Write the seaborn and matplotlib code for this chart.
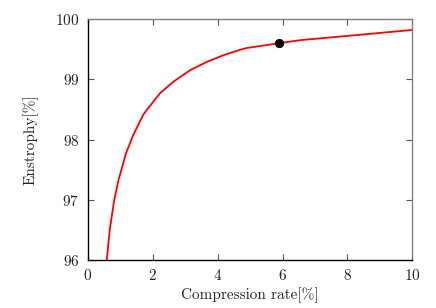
import seaborn as sns
import matplotlib
matplotlib.use("Agg")
import matplotlib.pyplot as plt
import pandas as pd

# curve
rate = [0.59, 0.68, 0.82, 0.96, 1.00, 1.18, 1.40, 1.71, 1.82, 2.07, 2.23, 2.64,
        3.15, 3.67, 4.18, 4.69, 4.90, 5.90, 6.54, 7.98, 10.0]
enstrophy = [96.0, 96.5, 97.0, 97.35, 97.42, 97.77, 98.07, 98.41, 98.49, 98.66, 98.77, 98.96,
             99.15, 99.29, 99.40, 99.49, 99.52, 99.60, 99.65, 99.72, 99.82]

# highlighted point
dot_rate = [5.89]
dot_enstrophy = [99.6]

xticks = [0, 2, 4, 6, 8, 10]
yticks = [96, 97, 98, 99, 100]

sns.set_style("ticks")
plt.rcParams['font.family'] = ['cmr10']
plt.rcParams['axes.formatter.use_mathtext'] = True
plt.rcParams['mathtext.fontset'] = 'cm'

df = pd.DataFrame({"rate": rate, "enstrophy": enstrophy})
pt = pd.DataFrame({"rate": dot_rate, "enstrophy": dot_enstrophy})

fig = plt.figure(figsize=(4.36, 3.08), dpi=100)
ax = fig.add_axes([0.201, 0.156, 0.745, 0.782])

sns.lineplot(data=df, x="rate", y="enstrophy", ax=ax, color="red", linewidth=1.3)
sns.scatterplot(data=pt, x="rate", y="enstrophy", ax=ax, color="black", s=38,
                edgecolor="black", zorder=5)

ax.set_xlim(0, 10)
ax.set_ylim(96, 100)
ax.set_xticks(xticks)
ax.set_yticks(yticks)
ax.set_xlabel("Compression rate[%]", fontsize=11, labelpad=3)
ax.set_ylabel("Enstrophy[%]", fontsize=11, labelpad=12)

ax.tick_params(direction="in", top=True, right=True, length=4, width=0.8,
               color="#555555", labelsize=11, pad=6)
for side in ["left", "bottom"]:
    ax.spines[side].set_color("black")
    ax.spines[side].set_linewidth(1.0)
for side in ["top", "right"]:
    ax.spines[side].set_visible(True)
    ax.spines[side].set_color("#808080")
    ax.spines[side].set_linewidth(1.0)

fig.savefig("out.png", dpi=100)
